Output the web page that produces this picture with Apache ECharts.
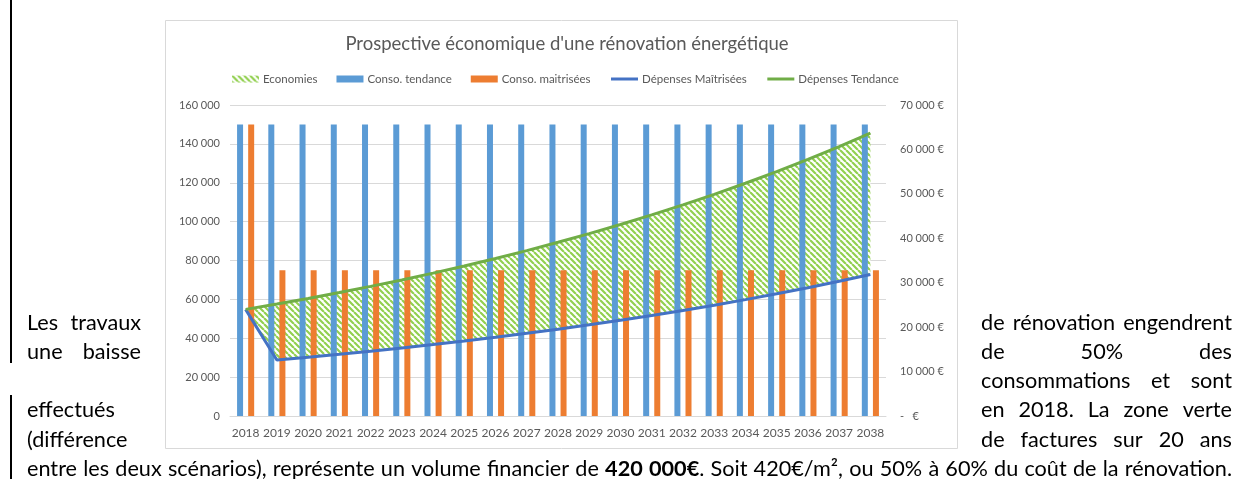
<!DOCTYPE html>
<html><head><meta charset="utf-8">
<script src="https://cdn.jsdelivr.net/npm/echarts@6/dist/echarts.min.js"></script>
<style>html,body{margin:0;padding:0;background:#fff;}#c{width:1240px;height:479px;}</style>
</head><body><div id="c"></div>
<script>
// ---------- DATA ----------
const years = ['2018','2019','2020','2021','2022','2023','2024','2025','2026','2027','2028','2029','2030','2031','2032','2033','2034','2035','2036','2037','2038'];
const consoTendance = [150000,150000,150000,150000,150000,150000,150000,150000,150000,150000,150000,150000,150000,150000,150000,150000,150000,150000,150000,150000,150000];
const consoMaitrisees = [150000,75000,75000,75000,75000,75000,75000,75000,75000,75000,75000,75000,75000,75000,75000,75000,75000,75000,75000,75000,75000];
const depensesTendance = [24000,25200,26460,27783,29172,30631,32162,33770,35459,37232,39093,41048,43101,45256,47518,49894,52389,55008,57759,60647,63679];
const depensesMaitrisees = [24000,12600,13230,13892,14586,15315,16081,16885,17729,18616,19547,20524,21550,22628,23759,24947,26194,27504,28879,30323,31840];
const leftTickLabels = ['0','20 000','40 000','60 000','80 000','100 000','120 000','140 000','160 000'];
const rightTickLabels = ['-   €','10 000 €','20 000 €','30 000 €','40 000 €','50 000 €','60 000 €','70 000 €'];
const titleText = "Prospective économique d'une rénovation énergétique";
const seriesNames = ['Economies','Conso. tendance','Conso. maitrisées','Dépenses Maîtrisées','Dépenses Tendance'];
const bodyLeftLines = ['Les travaux','une baisse','effectués','(différence'];
const bodyRightLines = ['de rénovation engendrent','de 50% des','consommations et sont','en 2018. La zone verte','de factures sur 20 ans'];
const bodyLastLine = [
  {t:'entre les deux scénarios), représente un volume financier de ', b:false},
  {t:'420 000€', b:true},
  {t:'. Soit 420€/m², ou 50% à 60% du coût de la rénovation.', b:false}
];

// derived
const economies = depensesTendance.map((v,i)=>v - depensesMaitrisees[i]);

// ---------- STYLE / LAYOUT ----------
const CF = 'Lato, "Open Sans", sans-serif';
const BODY_FONT = 'Lato, "Open Sans", sans-serif';
const GREY = '#595959';

function hatch(){
  const s = 6, c = document.createElement('canvas');
  c.width = s; c.height = s;
  const g = c.getContext('2d');
  g.fillStyle = '#fff'; g.fillRect(0,0,s,s);
  g.strokeStyle = '#92D050'; g.lineWidth = 2.2;
  g.beginPath();
  for (const o of [-s,0,s]) { g.moveTo(o,0); g.lineTo(o+s,s); }
  g.stroke();
  return {image:c, repeat:'repeat'};
}
const pattern = hatch();

const mctx = document.createElement('canvas').getContext('2d');
function measure(t,size,b){ mctx.font=(b?'bold ':'normal ')+size+'px '+BODY_FONT; return mctx.measureText(t).width; }
function tokenize(segs){
  const words=[]; let cur=[];
  segs.forEach(s=>{ s.t.split(' ').forEach((p,i)=>{ if(i>0){ if(cur.length) words.push(cur); cur=[]; } if(p) cur.push({t:p,b:s.b}); }); });
  if(cur.length) words.push(cur);
  return words;
}
function wordW(w,size){ return w.reduce((a,p)=>a+measure(p.t,size,p.b),0); }
function lineEls(segs,x0,x1,y,size,justify){
  const words = tokenize(segs);
  const ws = words.map(w=>wordW(w,size));
  const tot = ws.reduce((a,b)=>a+b,0);
  let gap = measure(' ',size,false);
  if (justify && words.length>1) gap = (x1-x0-tot)/(words.length-1);
  const els=[]; let x=x0;
  words.forEach((w,i)=>{
    let style;
    if (w.length===1) {
      style={text:w[0].t, fontSize:size, fontFamily:BODY_FONT, fontWeight:w[0].b?'bold':'normal', fill:'#000', verticalAlign:'middle'};
    } else {
      style={text:w.map(p=>'{'+(p.b?'b':'n')+'|'+p.t+'}').join(''), fontSize:size, fontFamily:BODY_FONT, fill:'#000', verticalAlign:'middle',
        rich:{b:{fontSize:size,fontFamily:BODY_FONT,fontWeight:'bold',fill:'#000'}, n:{fontSize:size,fontFamily:BODY_FONT,fontWeight:'normal',fill:'#000'}}};
    }
    els.push({type:'text', x:x, y:y, silent:true, style:style});
    x += ws[i]+gap;
  });
  return els;
}
// fit body font size to the full-width last line
const natural = (()=>{ const w=tokenize(bodyLastLine); return w.reduce((a,x)=>a+wordW(x,22),0)+(w.length-1)*measure(' ',22,false); })();
const BODY_SIZE = Math.max(17, Math.min(24, 22*1192/natural));

const lineY = [323,352,381,410,440];
const leftY = [323,352,410,440];
let bodyEls = [];
bodyLeftLines.forEach((l,i)=>{ bodyEls = bodyEls.concat(lineEls([{t:l,b:false}],27,141,leftY[i],BODY_SIZE,true)); });
bodyRightLines.forEach((l,i)=>{ bodyEls = bodyEls.concat(lineEls([{t:l,b:false}],981,1232,lineY[i],BODY_SIZE,true)); });
bodyEls = bodyEls.concat(lineEls(bodyLastLine,27,1232,469,BODY_SIZE,true));

const chart = echarts.init(document.getElementById('c'), null, {renderer:'canvas'});
chart.setOption({
  animation:false,
  backgroundColor:'#fff',
  title:{text:titleText, left:562, top:30, textAlign:'center',
    textStyle:{fontFamily:CF, fontSize:18.5, fontWeight:'normal', color:GREY}},
  legend:{
    left:227, top:67, itemWidth:27, itemHeight:7, itemGap:19,
    textStyle:{fontFamily:CF, fontSize:11.5, color:GREY, lineHeight:14, padding:[0,0,0,-1]},
    data:[
      {name:seriesNames[0], icon:'rect', itemStyle:{color:pattern}},
      {name:seriesNames[1], icon:'rect'},
      {name:seriesNames[2], icon:'rect'},
      {name:seriesNames[3], itemStyle:{opacity:0}, lineStyle:{width:3, color:'#4472C4'}},
      {name:seriesNames[4], itemStyle:{opacity:0}, lineStyle:{width:3, color:'#70AD47'}}
    ]
  },
  grid:{left:230, top:105, width:656, height:311, containLabel:false},
  xAxis:{type:'category', data:years, boundaryGap:true,
    axisLine:{lineStyle:{color:'#D9D9D9'}}, axisTick:{show:false},
    axisLabel:{interval:0, fontFamily:CF, fontSize:12, color:GREY, margin:11}},
  yAxis:[
    {type:'value', min:0, max:160000, interval:20000,
      axisLine:{show:false}, axisTick:{show:false},
      splitLine:{lineStyle:{color:'#D9D9D9'}},
      axisLabel:{fontFamily:CF, fontSize:11, color:GREY, margin:10, formatter:v=>leftTickLabels[Math.round(v/20000)]}},
    {type:'value', min:0, max:70000, interval:10000,
      axisLine:{show:false}, axisTick:{show:false}, splitLine:{show:false},
      axisLabel:{fontFamily:CF, fontSize:11, color:GREY, margin:14, align:'left', formatter:v=>rightTickLabels[Math.round(v/10000)]}}
  ],
  graphic:{elements:[
    {type:'rect', silent:true, shape:{x:165.5,y:20.5,width:792,height:428}, style:{fill:'none', stroke:'#D9D9D9', lineWidth:1}},
    {type:'rect', silent:true, shape:{x:10,y:0,width:2,height:363}, style:{fill:'#000'}},
    {type:'rect', silent:true, shape:{x:10,y:395,width:2,height:84}, style:{fill:'#000'}}
  ].concat(bodyEls)},
  series:[
    {name:'_base', type:'line', stack:'eco', yAxisIndex:1, data:depensesMaitrisees, symbol:'none', silent:true,
      lineStyle:{width:0, opacity:0}, z:1},
    {name:seriesNames[0], type:'line', stack:'eco', yAxisIndex:1, data:economies, symbol:'none',
      lineStyle:{width:0, opacity:0}, itemStyle:{color:'#92D050'}, areaStyle:{color:pattern, opacity:1}, z:1},
    {name:seriesNames[1], type:'bar', data:consoTendance, barWidth:6, barGap:'85%', itemStyle:{color:'#5B9BD5'}, z:2},
    {name:seriesNames[2], type:'bar', data:consoMaitrisees, barWidth:6, barGap:'85%', itemStyle:{color:'#ED7D31'}, z:2},
    {name:seriesNames[3], type:'line', yAxisIndex:1, data:depensesMaitrisees, symbol:'none',
      lineStyle:{width:3, color:'#4472C4'}, itemStyle:{color:'#4472C4'}, z:3},
    {name:seriesNames[4], type:'line', yAxisIndex:1, data:depensesTendance, symbol:'none',
      lineStyle:{width:3, color:'#70AD47'}, itemStyle:{color:'#70AD47'}, z:3}
  ]
});
</script></body></html>
